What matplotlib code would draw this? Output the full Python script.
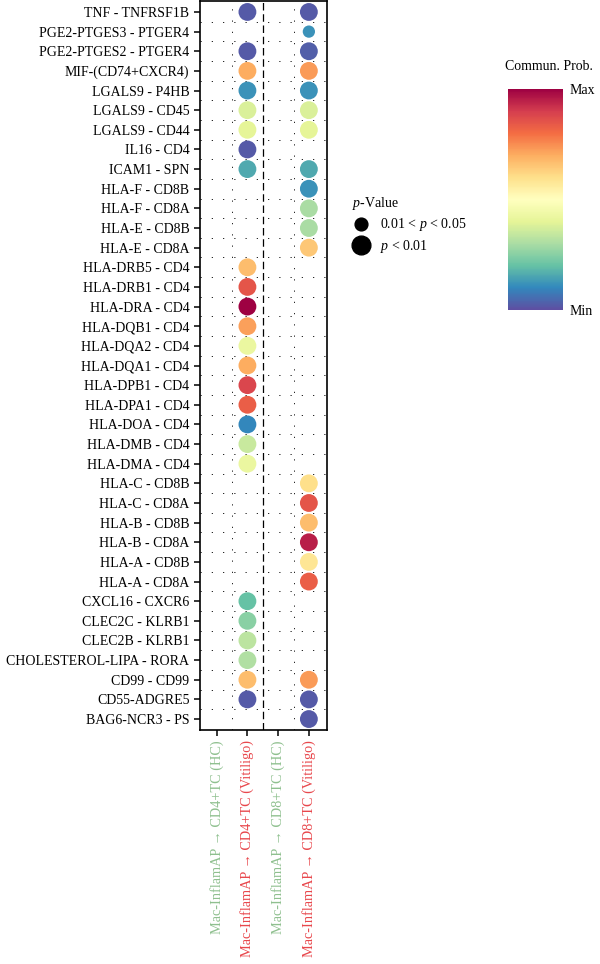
import numpy as np
import matplotlib
matplotlib.use('Agg')
import matplotlib.pyplot as plt
from matplotlib.lines import Line2D

plt.rcParams['font.family'] = ['Liberation Serif', 'DejaVu Serif']
plt.rcParams['mathtext.fontset'] = 'custom'
plt.rcParams['mathtext.rm'] = 'Liberation Serif'
plt.rcParams['mathtext.it'] = 'Liberation Serif:italic'

# ligand - receptor pairs, top to bottom
pairs = ['TNF - TNFRSF1B', 'PGE2-PTGES3 - PTGER4', 'PGE2-PTGES2 - PTGER4',
         'MIF-(CD74+CXCR4)', 'LGALS9 - P4HB', 'LGALS9 - CD45', 'LGALS9 - CD44',
         'IL16 - CD4', 'ICAM1 - SPN', 'HLA-F - CD8B', 'HLA-F - CD8A',
         'HLA-E - CD8B', 'HLA-E - CD8A', 'HLA-DRB5 - CD4', 'HLA-DRB1 - CD4',
         'HLA-DRA - CD4', 'HLA-DQB1 - CD4', 'HLA-DQA2 - CD4', 'HLA-DQA1 - CD4',
         'HLA-DPB1 - CD4', 'HLA-DPA1 - CD4', 'HLA-DOA - CD4', 'HLA-DMB - CD4',
         'HLA-DMA - CD4', 'HLA-C - CD8B', 'HLA-C - CD8A', 'HLA-B - CD8B',
         'HLA-B - CD8A', 'HLA-A - CD8B', 'HLA-A - CD8A', 'CXCL16 - CXCR6',
         'CLEC2C - KLRB1', 'CLEC2B - KLRB1', 'CHOLESTEROL-LIPA - RORA',
         'CD99 - CD99', 'CD55-ADGRE5', 'BAG6-NCR3 - PS']

groups = ['Mac-InflamAP \u2192 CD4+TC (HC)', 'Mac-InflamAP \u2192 CD4+TC (Vitiligo)',
          'Mac-InflamAP \u2192 CD8+TC (HC)', 'Mac-InflamAP \u2192 CD8+TC (Vitiligo)']
group_colors = ['#8fc08f', '#e8474c', '#8fc08f', '#e8474c']

# scaled communication probability (0 = Min, 1 = Max), None = not significant
prob_cd4_vit = [0.02, None, 0.02, 0.70, 0.12, 0.38, 0.40, 0.02, 0.16, None, None,
                None, None, 0.67, 0.85, 1.00, 0.72, 0.42, 0.70, 0.88, 0.83, 0.10,
                0.35, 0.42, None, None, None, None, None, None, 0.20, 0.25, 0.33,
                0.31, 0.67, 0.02, None]
prob_cd8_vit = [0.02, 0.12, 0.03, 0.73, 0.12, 0.38, 0.40, None, 0.16, 0.12, 0.30,
                0.30, 0.65, None, None, None, None, None, None, None, None, None,
                None, None, 0.60, 0.85, 0.67, 0.95, 0.58, 0.83, None, None, None,
                None, 0.73, 0.02, 0.02]
# 1 = p < 0.01, 0 = 0.01 < p < 0.05
sig_cd8_vit = [1, 0, 1, 1, 1, 1, 1, 1, 1, 1, 1, 1, 1, 1, 1, 1, 1, 1, 1, 1, 1, 1,
               1, 1, 1, 1, 1, 1, 1, 1, 1, 1, 1, 1, 1, 1, 1]

cmap = plt.get_cmap('Spectral_r')
big, small = 165, 78

fig = plt.figure(figsize=(6, 9.64), dpi=100)
ax = fig.add_axes([0.333, 0.2427, 0.212, 0.7563])

n = len(pairs)
y = np.arange(1, n + 1)

for col, probs, sig in [(2, prob_cd4_vit, [1] * n), (4, prob_cd8_vit, sig_cd8_vit)]:
    xs, ys, cs, ss = [], [], [], []
    for i, p in enumerate(probs):
        if p is None:
            continue
        xs.append(col)
        ys.append(y[i])
        cs.append(p)
        ss.append(big if sig[i] else small)
    ax.scatter(xs, ys, c=cs, s=ss, cmap=cmap, vmin=0, vmax=1, linewidths=0, zorder=3)

ax.set_xlim(0.45, 4.59)
ax.set_ylim(n + 0.56, 0.44)
ax.set_yticks(y)
ax.set_yticklabels(pairs, fontsize=10)
ax.set_xticks([1, 2, 3, 4])
ax.set_xticklabels(groups, rotation=90, fontsize=10.3)
for lab, c in zip(ax.get_xticklabels(), group_colors):
    lab.set_color(c)

# dotted grid between cells
ax.set_xticks([1.5, 3.5], minor=True)
ax.set_yticks(np.arange(1.5, n + 0.5, 1), minor=True)
ax.tick_params(which='minor', length=0)
ax.grid(which='minor', color='black', linewidth=0.6, linestyle=(0, (1.5, 12)))
ax.axvline(2.5, color='black', linewidth=0.9, linestyle=(0, (6, 3)))
ax.tick_params(which='major', length=4, width=1.1)
for s in ax.spines.values():
    s.set_linewidth(1.2)

# p-value legend
handles = [Line2D([], [], marker='o', linestyle='', color='black', markersize=9.2),
           Line2D([], [], marker='o', linestyle='', color='black', markersize=13.5)]
leg = fig.legend(handles, ['0.01 < $p$ < 0.05', '$p$ < 0.01'], title='$p$-Value',
                 loc='upper left', bbox_to_anchor=(0.578, 1 - 189 / 964), frameon=False,
                 fontsize=10, title_fontsize=10, alignment='left', handletextpad=0.7,
                 labelspacing=0.35, borderaxespad=0, handlelength=1.3)

# colorbar
cax = fig.add_axes([508 / 600, 1 - 310 / 964, 55 / 600, 221 / 964])
sm = plt.cm.ScalarMappable(cmap=cmap, norm=plt.Normalize(0, 1))
cb = fig.colorbar(sm, cax=cax, ticks=[0, 1])
cb.ax.set_yticklabels(['Min', 'Max'], fontsize=10)
cb.ax.tick_params(length=0, pad=5)
cb.outline.set_visible(False)
fig.text(549 / 600, 1 - 67 / 964, 'Commun. Prob.', ha='center', va='center', fontsize=10)

fig.savefig('out.png', dpi=100)
